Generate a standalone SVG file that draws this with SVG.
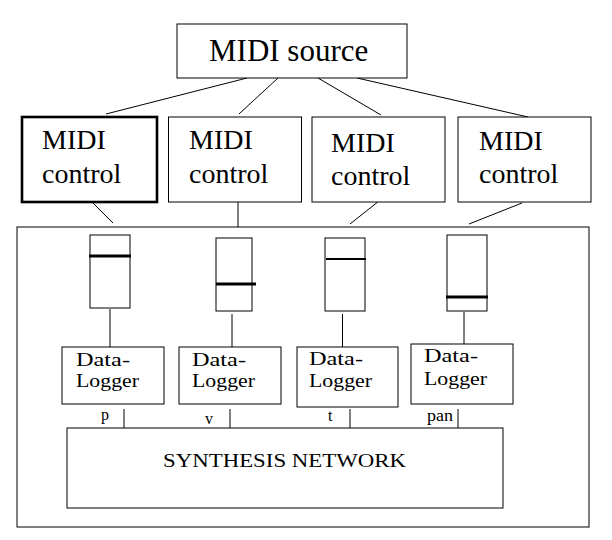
<svg xmlns="http://www.w3.org/2000/svg" width="612" height="540" viewBox="0 0 612 540">
<style>
.box{fill:#fff;stroke:#000;stroke-width:1}
.thick{fill:#fff;stroke:#000;stroke-width:2.6}
.ln{stroke:#000;stroke-width:1;fill:none}
.bar{stroke:#000;fill:none}
.t{font-family:"Liberation Serif","Times New Roman",serif;fill:#000}
.big{font-size:31px}
.mid{font-size:28px}
.dl{font-size:18.6px}
.sm{font-size:16px}
</style>
<rect width="612" height="540" fill="#fff"/>
<g id="container"><rect class="box" x="17" y="227" width="572" height="300" stroke="#333"/></g>
<g id="connectors">
<line class="ln" x1="247" y1="78" x2="106" y2="114"/>
<line class="ln" x1="278" y1="78" x2="239" y2="114"/>
<line class="ln" x1="318" y1="78" x2="381" y2="115"/>
<line class="ln" x1="357" y1="78" x2="528" y2="117" stroke-width="1.3"/>
<line class="ln" x1="92" y1="202" x2="113" y2="223"/>
<line class="ln" x1="238" y1="202" x2="238" y2="227"/>
<line class="ln" x1="379" y1="201" x2="350" y2="224"/>
<line class="ln" x1="522" y1="203" x2="469" y2="224"/>
<line class="ln" x1="110" y1="309" x2="110" y2="347"/>
<line class="ln" x1="232" y1="314" x2="232" y2="347"/>
<line class="ln" x1="342.5" y1="314" x2="342.5" y2="347"/>
<line class="ln" x1="464" y1="312" x2="464" y2="344"/>
<line class="ln" x1="124" y1="409" x2="124" y2="428"/>
<line class="ln" x1="230" y1="409" x2="230" y2="428"/>
<line class="ln" x1="350" y1="409" x2="350" y2="428"/>
<line class="ln" x1="458" y1="409" x2="458" y2="428"/>
</g>
<g id="midi-source">
<rect class="box" x="177" y="24" width="230" height="54"/>
<text class="t big" x="209" y="61">MIDI source</text>
</g>
<g id="midi-control-1">
<rect class="thick" x="22" y="117" width="135" height="85"/>
<text class="t mid" x="42" y="149">MIDI</text>
<text class="t mid" x="42" y="183">control</text>
</g>
<g id="midi-control-2">
<rect class="box" x="168.5" y="117" width="133" height="85"/>
<text class="t mid" x="189" y="149">MIDI</text>
<text class="t mid" x="189" y="183">control</text>
</g>
<g id="midi-control-3">
<rect class="box" x="312" y="117" width="133" height="85"/>
<text class="t mid" x="331" y="152">MIDI</text>
<text class="t mid" x="331" y="185">control</text>
</g>
<g id="midi-control-4">
<rect class="box" x="458" y="117" width="133" height="85"/>
<text class="t mid" x="479" y="150">MIDI</text>
<text class="t mid" x="479" y="183">control</text>
</g>
<g id="slider-1">
<rect class="box" x="90" y="235" width="40" height="73" stroke="#444"/>
<line class="bar" x1="89" y1="256" x2="131" y2="256" stroke-width="3"/>
</g>
<g id="slider-2">
<rect class="box" x="216" y="238" width="36" height="73" stroke="#444"/>
<line class="bar" x1="216" y1="284" x2="256" y2="284" stroke-width="3"/>
</g>
<g id="slider-3">
<rect class="box" x="325" y="238" width="40" height="73" stroke="#444"/>
<line class="bar" x1="326" y1="259" x2="366" y2="259" stroke-width="2"/>
</g>
<g id="slider-4">
<rect class="box" x="447" y="235" width="40" height="76" stroke="#444"/>
<line class="bar" x1="446" y1="297" x2="488" y2="297" stroke-width="3"/>
</g>
<g id="logger-1">
<rect class="box" x="62" y="347" width="102" height="57"/>
<text class="t dl" x="76" y="366" textLength="54" lengthAdjust="spacingAndGlyphs">Data-</text>
<text class="t dl" x="76" y="387" textLength="63" lengthAdjust="spacingAndGlyphs">Logger</text>
</g>
<g id="logger-2">
<rect class="box" x="179" y="347" width="102" height="57"/>
<text class="t dl" x="192" y="366" textLength="54" lengthAdjust="spacingAndGlyphs">Data-</text>
<text class="t dl" x="192" y="387" textLength="63" lengthAdjust="spacingAndGlyphs">Logger</text>
</g>
<g id="logger-3">
<rect class="box" x="297" y="347" width="101" height="60"/>
<text class="t dl" x="309" y="365" textLength="54" lengthAdjust="spacingAndGlyphs">Data-</text>
<text class="t dl" x="309" y="387" textLength="63" lengthAdjust="spacingAndGlyphs">Logger</text>
</g>
<g id="logger-4">
<rect class="box" x="411" y="344" width="102" height="60"/>
<text class="t dl" x="424" y="362" textLength="54" lengthAdjust="spacingAndGlyphs">Data-</text>
<text class="t dl" x="424" y="385" textLength="63" lengthAdjust="spacingAndGlyphs">Logger</text>
</g>
<g id="labels">
<text class="t sm" x="101" y="420">p</text>
<text class="t sm" x="205" y="424">v</text>
<text class="t sm" x="328" y="421">t</text>
<text class="t sm" x="427" y="421" textLength="26" lengthAdjust="spacingAndGlyphs">pan</text>
</g>
<g id="synthesis-network">
<rect class="box" x="67" y="428" width="436" height="80" stroke="#333"/>
<text class="t" x="163" y="467" font-size="18" textLength="243" lengthAdjust="spacingAndGlyphs">SYNTHESIS NETWORK</text>
</g>
</svg>
